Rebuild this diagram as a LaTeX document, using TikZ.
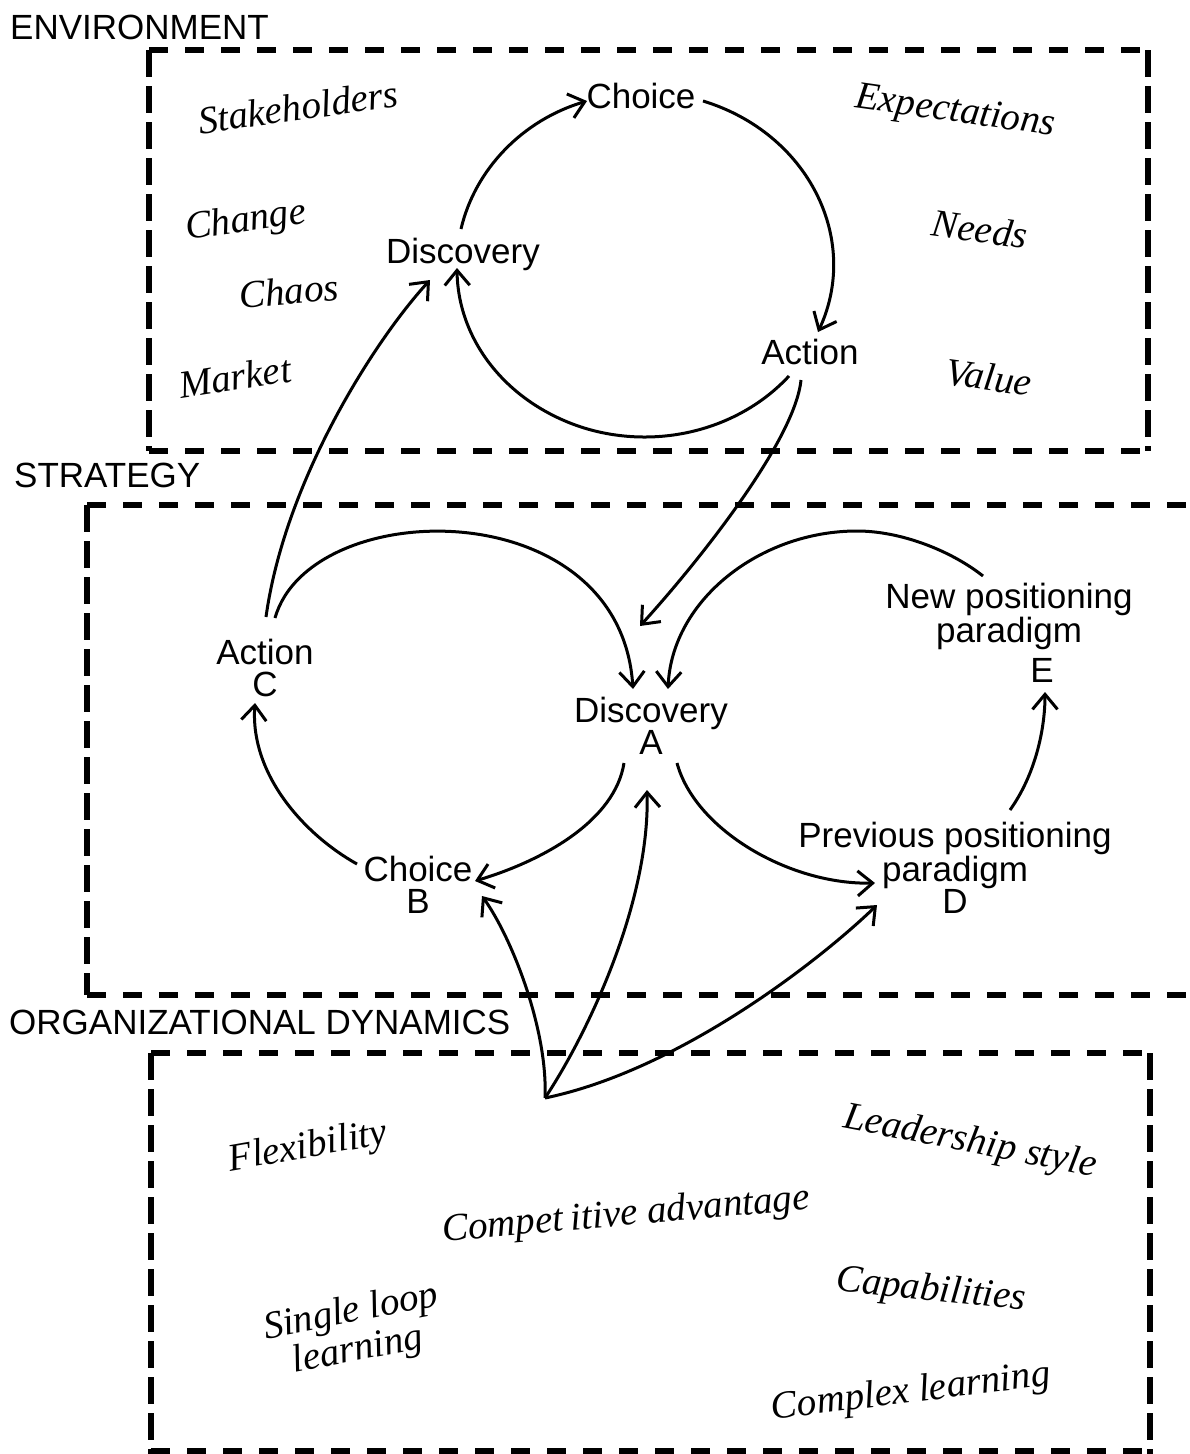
\documentclass[tikz,border=0pt]{standalone}
\usepackage{fontspec}
\setsansfont{Liberation Sans}
\newfontfamily\itserif{Liberation Serif}
\usetikzlibrary{arrows.meta}
\begin{document}
\begin{tikzpicture}[x=1pt,y=-1pt,
  sans/.style={font=\sffamily\fontsize{35}{32}\selectfont, inner sep=0pt, align=center, anchor=north},
  ital/.style={font=\itserif\itshape\fontsize{39}{40}\selectfont, inner sep=0pt, align=center},
  lbl/.style={font=\sffamily\fontsize{35}{36}\selectfont, anchor=north west, inner sep=0pt},
  hdash/.style={line width=6pt, dash pattern=on 19pt off 17pt},
  vdash/.style={line width=6pt, dash pattern=on 27pt off 9pt},
  arr/.style={line width=3pt, -{Straight Barb[length=15pt,width=25pt]}},
  ln/.style={line width=3pt}]
\useasboundingbox (0,0) rectangle (1189,1454);
\fill[white] (0,0) rectangle (1189,1454);

% ---------- section labels ----------
\node[lbl] (envlbl) at (10,15) {ENVIRONMENT};
\node[lbl] (strlbl) at (14,463) {STRATEGY};
\node[lbl] (orglbl) at (9,1010) {ORGANIZATIONAL DYNAMICS};

% ---------- dashed frames ----------
\draw[hdash] (149,50) -- (1148,50);
\draw[hdash] (149,451) -- (1148,451);
\draw[vdash] (149,50) -- (149,451);
\draw[vdash] (1148,50) -- (1148,451);

\draw[hdash] (87,505) -- (1189,505);
\draw[hdash] (87,995) -- (1189,995);
\draw[vdash] (87,505) -- (87,995);

\draw[hdash] (151,1053) -- (1150,1053);
\draw[hdash] (151,1451) -- (1150,1451);
\draw[vdash] (151,1053) -- (151,1454);
\draw[vdash] (1150,1053) -- (1150,1454);

% ---------- environment ----------
\node[sans] (eCh) at (641,83) {Choice};
\node[sans] (eDi) at (463,238) {Discovery};
\node[sans] (eAc) at (810,339) {Action};

\node[ital,rotate=8] (stake) at (298,107) {Stakeholders};
\node[ital,rotate=8] (change) at (246,222) {Change};
\node[ital,rotate=5] (chaos) at (289,291) {Chaos};
\node[ital,rotate=9] (market) at (235,377) {Market};
\node[ital,rotate=-8] (expect) at (955,113) {Expectations};
\node[ital,rotate=-8] (needs) at (980,229) {Needs};
\node[ital,rotate=-8] (value) at (989,377) {Value};

\coordinate (eDi-o) at (461,229);
\coordinate (eCh-i) at (587,101);
\coordinate (eCh-o) at (703,101);
\coordinate (eAc-i) at (818,332);
\coordinate (eAc-o) at (789,376);
\coordinate (eDi-i) at (457,268);
\draw[arr] (eDi-o) .. controls (475,169) and (523,120) .. (eCh-i);
\draw[arr] (eCh-o) .. controls (808,133) and (861,239) .. (eAc-i);
\draw[arr] (eAc-o) .. controls (738,431) and (655,451) .. (581,427) .. controls (506,402) and (458,340) .. (eDi-i);

% ---------- strategy ----------
\node[sans] (sC) at (265,639) {Action\\C};
\node[sans] (sA) at (651,697) {Discovery\\A};
\node[sans] (sB) at (418,856) {Choice\\B};
\node[sans] (sNew) at (1009,583) {New positioning\\paradigm};
\node[sans] (sE) at (1042,658) {E};
\node[sans] (sD) at (955,822) {Previous positioning\\paradigm\\D};

\coordinate (sB-o) at (357,864);
\coordinate (sC-i) at (255,703);
\coordinate (sC-o) at (275,618);
\coordinate (sA-i1) at (633,689);
\coordinate (sA-o1) at (624,763);
\coordinate (sB-i) at (475,881);
\coordinate (sE-o) at (983,576);
\coordinate (sA-i2) at (668,689);
\coordinate (sA-o2) at (677,763);
\coordinate (sD-i) at (875,883);
\coordinate (sD-o) at (1010,810);
\coordinate (sE-i) at (1045,692);
\coordinate (sC-up) at (266,617);
\coordinate (eDi-i2) at (430,280);
\coordinate (eAc-down) at (801,380);
\coordinate (sA-i3) at (640,626);

\draw[arr] (sB-o) .. controls (305,835) and (250,775) .. (sC-i);
\draw[arr] (sC-o) .. controls (310,495) and (620,490) .. (sA-i1);
\draw[arr] (sA-o1) .. controls (615,820) and (545,860) .. (sB-i);
\draw[arr] (sE-o) .. controls (950,550) and (900,531) .. (857,531) .. controls (760,531) and (672,600) .. (sA-i2);
\draw[arr] (sA-o2) .. controls (695,830) and (790,885) .. (sD-i);
\draw[arr] (sD-o) .. controls (1035,775) and (1045,730) .. (sE-i);
\draw[arr] (sC-up) .. controls (285,480) and (375,340) .. (eDi-i2);
\draw[arr] (eAc-down) .. controls (795,440) and (700,560) .. (sA-i3);

% ---------- organizational dynamics ----------
\coordinate (hub) at (545,1098);
\coordinate (sB-i2) at (482,896);
\coordinate (sA-i4) at (647,790);
\coordinate (sD-i2) at (877,905);
\draw[arr] (hub) .. controls (548,1030) and (512,938) .. (sB-i2);
\draw[arr] (hub) .. controls (590,1030) and (650,900) .. (sA-i4);
\draw[arr] (hub) .. controls (680,1070) and (820,960) .. (sD-i2);

\node[ital,rotate=10] (flex) at (308,1148) {Flexibility};
\node[ital,rotate=-11] (lead) at (970,1143) {Leadership style};
\node[ital,rotate=5] (comp) at (626,1216) {Compet\kern0.2em itive advantage};
\node[ital,rotate=-6] (capab) at (931,1291) {Capabilities};
\node[ital,rotate=11] (single1) at (351,1313) {Single loop};
\node[ital,rotate=11] (single2) at (358,1351) {learning};
\node[ital,rotate=7] (complex) at (911,1393) {Complex learning};
\end{tikzpicture}
\end{document}
